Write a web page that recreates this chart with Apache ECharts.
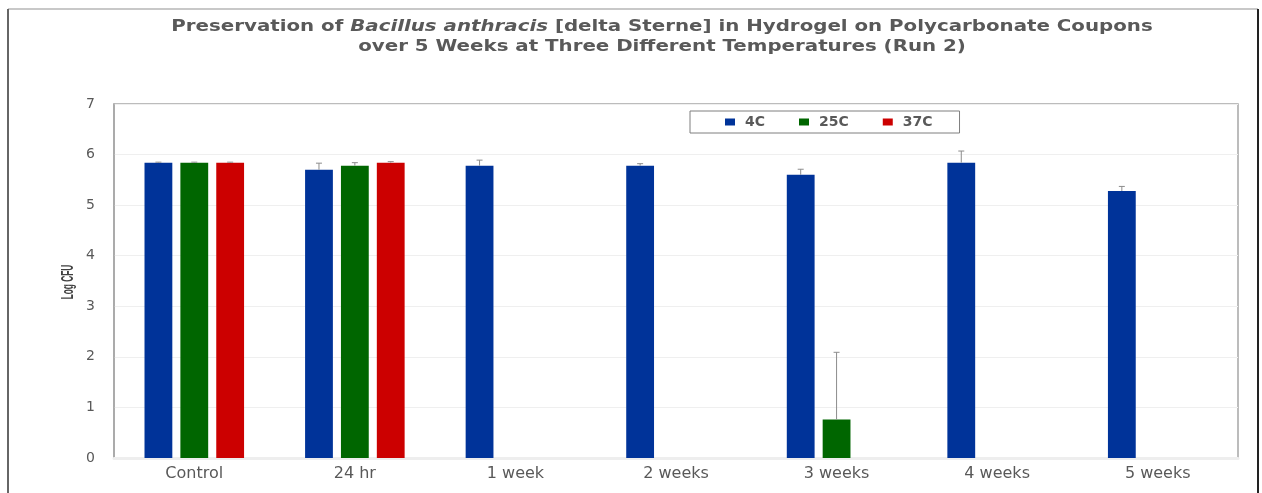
<!DOCTYPE html>
<html>
<head>
<meta charset="utf-8">
<script src="https://cdn.jsdelivr.net/npm/echarts@6/dist/echarts.min.js"></script>
<style>
  html, body { margin: 0; padding: 0; background: #fff; }
  #chart { width: 1262px; height: 493px; }
</style>
</head>
<body>
<div id="chart"></div>
<script>
// Sampling times along the x axis
const categories = ['Control', '24 hr', '1 week', '2 weeks', '3 weeks', '4 weeks', '5 weeks'];
const seriesNames = ['4C', '25C', '37C'];
const seriesColors = ['#003399', '#006600', '#CC0000'];

// Mean Log CFU per storage temperature (null = no recovery measured)
const values4C  = [5.84, 5.70, 5.78, 5.78, 5.60, 5.84, 5.28];
const values25C = [5.84, 5.78, null, null, 0.76, null, null];
const values37C = [5.84, 5.84, null, null, null, null, null];

// Upper error (standard deviation) for each mean
const err4C  = [0.01, 0.13, 0.11, 0.04, 0.11, 0.23, 0.09];
const err25C = [0.01, 0.06, null, null, 1.33, null, null];
const err37C = [0.01, 0.02, null, null, null, null, null];

const yTicks = [0, 1, 2, 3, 4, 5, 6, 7];

const allValues = [values4C, values25C, values37C];
const allErrors = [err4C, err25C, err37C];

const CAT_GAP = 0.38;   // barCategoryGap
const BAR_GAP = 0.29;   // barGap
const nSeries = seriesNames.length;

function errorRenderer(seriesIndex) {
  return function (params, api) {
    const cat = api.value(0);
    const val = api.value(1);
    const err = api.value(2);
    const bandWidth = api.size([1, 0])[0];
    const barW = bandWidth * (1 - CAT_GAP) / (nSeries + (nSeries - 1) * BAR_GAP);
    const total = nSeries * barW + (nSeries - 1) * barW * BAR_GAP;
    const offset = -total / 2 + barW / 2 + seriesIndex * barW * (1 + BAR_GAP);
    const base = api.coord([cat, val]);
    const top = api.coord([cat, val + err]);
    const x = base[0] + offset;
    const style = { stroke: '#8c8c8c', lineWidth: 1 };
    return {
      type: 'group',
      children: [
        { type: 'line', shape: { x1: x, y1: base[1], x2: x, y2: top[1] }, style: style },
        { type: 'line', shape: { x1: x - 3, y1: top[1], x2: x + 3, y2: top[1] }, style: style }
      ]
    };
  };
}

const barSeries = seriesNames.map((name, i) => ({
  name: name,
  type: 'bar',
  data: allValues[i],
  barCategoryGap: (CAT_GAP * 100) + '%',
  barGap: (BAR_GAP * 100) + '%',
  itemStyle: { color: seriesColors[i] },
  z: 2
}));

const errorSeries = seriesNames.map((name, i) => ({
  name: name + ' error',
  type: 'custom',
  renderItem: errorRenderer(i),
  data: allValues[i]
    .map((v, k) => (v === null ? null : [k, v, allErrors[i][k]]))
    .filter(d => d !== null),
  encode: { x: 0, y: 1 },
  z: 3,
  silent: true
}));

const titleRich = {
  b: { fontFamily: 'DejaVu Sans', fontWeight: 'bold', fontSize: 15, fill: '#595959', lineHeight: 20 },
  i: { fontFamily: 'DejaVu Sans', fontWeight: 'bold', fontStyle: 'italic', fontSize: 15, fill: '#595959', lineHeight: 20 }
};

const chart = echarts.init(document.getElementById('chart'), null, { renderer: 'canvas' });

chart.setOption({
  animation: false,
  backgroundColor: '#ffffff',
  legend: {
    data: seriesNames,
    left: 690,
    top: 111,
    orient: 'horizontal',
    icon: 'rect',
    itemWidth: 10,
    itemHeight: 7,
    itemGap: 34,
    padding: [4, 27, 4, 35],
    borderColor: '#7f7f7f',
    borderWidth: 1,
    textStyle: {
      fontFamily: 'DejaVu Sans', fontSize: 14, fontWeight: 'bold', color: '#595959',
      padding: [0, 0, 0, 5]
    }
  },
  grid: {
    left: 114,
    right: 24,
    top: 104,
    bottom: 35,
    show: true,
    borderColor: '#a6a6a6',
    borderWidth: 1.5
  },
  xAxis: {
    type: 'category',
    data: categories,
    axisLine: { show: true, lineStyle: { color: '#eeeeee', width: 3 } },
    axisTick: { show: false },
    axisLabel: { fontFamily: 'DejaVu Sans', fontSize: 16, color: '#595959', margin: 8 }
  },
  yAxis: {
    type: 'value',
    min: yTicks[0],
    max: yTicks[yTicks.length - 1],
    interval: 1,
    axisLine: { show: true, lineStyle: { color: '#a6a6a6', width: 1.5 } },
    axisTick: { show: false },
    axisLabel: { fontFamily: 'DejaVu Sans', fontSize: 14, color: '#595959', margin: 19 },
    splitLine: { lineStyle: { color: '#efefef', width: 1 } }
  },
  graphic: [
    // outer chart frame
    { type: 'line', shape: { x1: 8, y1: 9, x2: 1258, y2: 9 }, style: { stroke: '#c8c8c8', lineWidth: 2 } },
    { type: 'line', shape: { x1: 8, y1: 9, x2: 8, y2: 493 }, style: { stroke: '#666666', lineWidth: 2 } },
    { type: 'line', shape: { x1: 1258, y1: 9, x2: 1258, y2: 493 }, style: { stroke: '#222222', lineWidth: 2 } },
    // chart title, set in a wide face
    {
      type: 'text',
      x: 662,
      y: 17,
      scaleX: 1.32,
      style: {
        text: '{b|Preservation of }{i|Bacillus anthracis}{b| [delta Sterne] in Hydrogel on Polycarbonate Coupons}\n{b|over 5 Weeks at Three Different Temperatures (Run 2)}',
        align: 'center',
        verticalAlign: 'top',
        rich: titleRich
      }
    },
    // y axis title, set in a condensed face
    {
      type: 'text',
      x: 68,
      y: 282,
      rotation: Math.PI / 2,
      scaleX: 0.49,
      style: {
        text: 'Log CFU',
        font: 'bold 17px "Liberation Sans"',
        fill: '#404040',
        align: 'center',
        verticalAlign: 'middle'
      }
    }
  ],
  series: barSeries.concat(errorSeries)
});
</script>
</body>
</html>
